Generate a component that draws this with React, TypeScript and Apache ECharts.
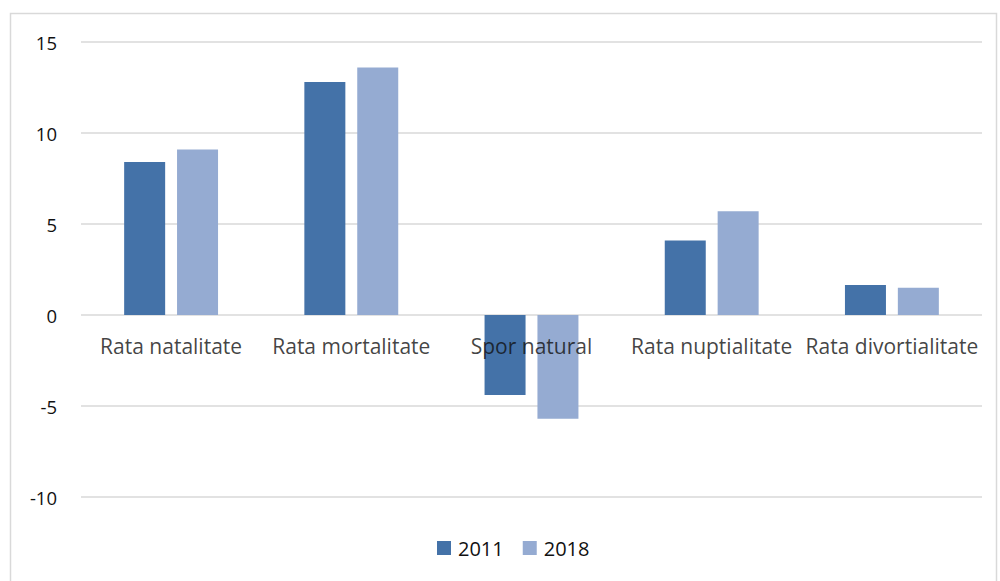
import React, { useEffect, useRef } from "react";
import * as echarts from "echarts";

const categories = ["Rata natalitate", "Rata mortalitate", "Spor natural", "Rata nuptialitate", "Rata divortialitate"];
const values2011 = [8.4, 12.8, -4.4, 4.1, 1.65];
const values2018 = [9.1, 13.6, -5.7, 5.7, 1.5];
const labelBaseline = [0, 0, 0, 0, 0];
const seriesNames = ["2011", "2018"];

const FONT = "Open Sans";
const TEXT = "#111";

export default function App() {
  const ref = useRef<HTMLDivElement>(null);
  useEffect(() => {
    const chart = echarts.init(ref.current!, null, { renderer: "svg" });
    chart.setOption({
      animation: false,
      backgroundColor: "#ffffff",
      textStyle: { fontFamily: FONT },
      graphic: [
        {
          type: "rect",
          shape: { x: 10.5, y: 13.5, width: 986, height: 600 },
          style: { fill: "none", stroke: "#d9d9d9", lineWidth: 1.5 },
          z: -1,
        },
      ],
      grid: { left: 81, right: 18, top: 42, bottom: 84 },
      legend: {
        top: 533,
        left: 432,
        itemWidth: 14,
        itemHeight: 14,
        itemGap: 19,
        icon: "rect",
        textStyle: { fontSize: 20, color: TEXT, fontFamily: FONT, padding: [0, 0, 0, 2] },
        data: seriesNames,
      },
      xAxis: {
        type: "category",
        data: categories,
        axisLine: { show: false },
        axisTick: { show: false },
        axisLabel: { show: false },
      },
      yAxis: {
        type: "value",
        min: -10,
        max: 15,
        interval: 5,
        axisLine: { show: false },
        axisTick: { show: false },
        splitLine: { lineStyle: { color: "#d9d9d9", width: 1.5 } },
        axisLabel: { fontSize: 18.5, color: TEXT, margin: 24, fontFamily: FONT },
      },
      series: [
        {
          name: seriesNames[0],
          type: "bar",
          data: values2011,
          barWidth: 41,
          barGap: "29%",
          itemStyle: { color: "#4472a8" },
        },
        {
          name: seriesNames[1],
          type: "bar",
          data: values2018,
          barWidth: 41,
          barGap: "29%",
          itemStyle: { color: "#95abd2" },
        },
        {
          name: "labels",
          type: "scatter",
          data: labelBaseline,
          symbolSize: 0,
          silent: true,
          z: 10,
          label: {
            show: true,
            position: "bottom",
            distance: 20,
            fontSize: 21,
            color: TEXT,
            fontFamily: FONT,
            formatter: (p: any) => categories[p.dataIndex],
          },
        },
      ],
    });
    return () => chart.dispose();
  }, []);
  return (
    <div
      ref={ref}
      style={{ position: "absolute", left: 0, top: 0, width: 1000, height: 581 }}
    />
  );
}
